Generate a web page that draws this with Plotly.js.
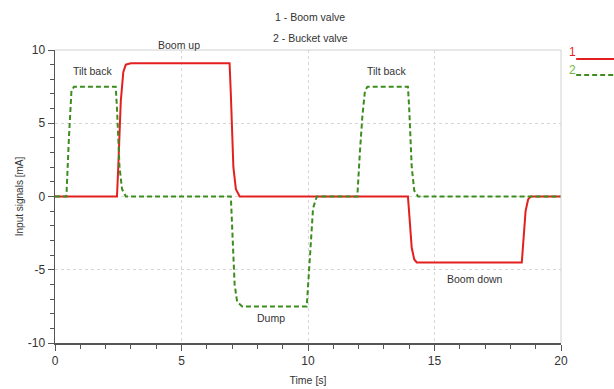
<!DOCTYPE html>
<html>
<head>
<meta charset="utf-8">
<script src="https://cdn.plot.ly/plotly-3.0.1.min.js"></script>
<style>html,body{margin:0;padding:0;background:#fff;}#chart{width:614px;height:389px;}</style>
</head>
<body>
<div id="chart"></div>
<script>
// Boom valve (series 1)
const timeBoom = [0, 2.45, 2.5, 2.6, 2.7, 2.8, 3.0, 6.9, 6.95, 7.05, 7.15, 7.3, 13.95, 14.0, 14.1, 14.2, 14.3, 18.45, 18.5, 18.6, 18.7, 18.8, 20];
const boomValve = [0, 0, 2, 6.5, 8.5, 9.0, 9.1, 9.1, 7, 2, 0.5, 0, 0, -1, -3.5, -4.3, -4.5, -4.5, -3.5, -1, -0.2, 0, 0];
// Bucket valve (series 2)
const timeBucket = [0, 0.45, 0.55, 0.65, 0.75, 2.4, 2.45, 2.55, 2.65, 2.8, 6.95, 7.0, 7.1, 7.2, 7.4, 9.95, 10.0, 10.1, 10.2, 10.35, 11.95, 12.05, 12.15, 12.25, 12.35, 13.95, 14.0, 14.1, 14.2, 14.35, 20];
const bucketValve = [0, 0, 4, 7.2, 7.5, 7.5, 6, 2, 0.5, 0, 0, -2, -6, -7.2, -7.5, -7.5, -6, -3, -0.8, 0, 0, 3, 5.5, 7.2, 7.5, 7.5, 6, 2, 0.4, 0, 0];
// Phase labels
const labelText = ["Boom up", "Tilt back", "Tilt back", "Dump", "Boom down"];
const labelX = [4.9, 1.5, 13.1, 8.55, 16.6];
const labelY = [10, 8.6, 8.6, -8.3, -5.6];
const labelShift = [5, 0, 0, 0, 0];
const xTicks = [0, 5, 10, 15, 20];
const yTicks = [-10, -5, 0, 5, 10];
const titleLines = ["1 - Boom valve", "2 - Bucket valve"];

const RED = '#e41f1f', GREEN = '#3d8c1e';
const FONT = '"Liberation Sans Narrow", "Arial Narrow", "Liberation Sans", sans-serif';

const traces = [
  {x: timeBoom, y: boomValve, mode: 'lines', name: '1', line: {color: RED, width: 2}, cliponaxis: false},
  {x: timeBucket, y: bucketValve, mode: 'lines', name: '2', line: {color: GREEN, width: 2, dash: '5px,3px'}}
];

const annotations = labelText.map((t, i) => ({
  x: labelX[i], y: labelY[i], xref: 'x', yref: 'y', text: t, showarrow: false, yshift: labelShift[i],
  font: {family: FONT, size: 10.5, color: '#333'}
}));
// second title line
annotations.push({xref: 'paper', yref: 'paper', x: 0.505, y: 1.0, yshift: 12, xanchor: 'center', yanchor: 'middle', text: titleLines[1], showarrow: false, font: {family: FONT, size: 10.5, color: '#333'}});
// legend
annotations.push({xref: 'paper', yref: 'paper', x: 1.012, y: 0.993, xanchor: 'left', yanchor: 'middle', text: '1', showarrow: false, font: {family: FONT, size: 12, color: RED}});
annotations.push({xref: 'paper', yref: 'paper', x: 1.012, y: 0.932, xanchor: 'left', yanchor: 'middle', text: '2', showarrow: false, font: {family: FONT, size: 12, color: '#6fb83f'}});

const shapes = [
  {type: 'line', xref: 'paper', yref: 'paper', x0: 0, x1: 1, y0: 1, y1: 1, line: {color: '#d0d0d0', width: 1}},
  {type: 'line', xref: 'paper', yref: 'paper', x0: 1, x1: 1, y0: 0, y1: 1, line: {color: '#d0d0d0', width: 1}},
  {type: 'line', xref: 'paper', yref: 'paper', x0: 1.03, x1: 1.105, y0: 0.969, y1: 0.969, line: {color: RED, width: 2}},
  {type: 'line', xref: 'paper', yref: 'paper', x0: 1.03, x1: 1.105, y0: 0.915, y1: 0.915, line: {color: GREEN, width: 2, dash: '5px,3px'}}
];

const layout = {
  width: 614, height: 389,
  margin: {l: 55, r: 53, t: 50, b: 46},
  paper_bgcolor: '#fff', plot_bgcolor: '#fff',
  showlegend: false,
  font: {family: FONT, size: 11, color: '#333'},
  title: {text: titleLines[0], x: 0.505, xanchor: 'center', y: 1 - 17 / 389, yanchor: 'middle', font: {family: FONT, size: 10.5, color: '#333'}},
  xaxis: {
    range: [0, 20], tickvals: xTicks, ticktext: xTicks.map(String),
    showline: true, linecolor: '#555', linewidth: 1.5,
    ticks: 'outside', ticklen: 6, tickcolor: '#555',
    minor: {dtick: 1, ticks: 'outside', ticklen: 4, tickcolor: '#555', showgrid: false},
    showgrid: true, gridcolor: '#d6d6d6', griddash: 'dot', gridwidth: 1,
    zeroline: false,
    title: {text: 'Time [s]', font: {family: FONT, size: 10.5, color: '#333'}, standoff: 9},
    tickfont: {family: FONT, size: 12, color: '#333'}
  },
  yaxis: {
    range: [-10, 10], tickvals: yTicks, ticktext: yTicks.map(String),
    showline: true, linecolor: '#555', linewidth: 1.5,
    ticks: 'outside', ticklen: 6, tickcolor: '#555',
    minor: {dtick: 1, ticks: 'outside', ticklen: 4, tickcolor: '#555', showgrid: false},
    showgrid: true, gridcolor: '#d6d6d6', griddash: 'dot', gridwidth: 1,
    zeroline: false,
    title: {text: 'Input signals [mA]', font: {family: FONT, size: 10, color: '#333'}, standoff: 2},
    tickfont: {family: FONT, size: 12, color: '#333'}
  },
  annotations: annotations,
  shapes: shapes
};

Plotly.newPlot('chart', traces, layout, {displayModeBar: false, staticPlot: true});
</script>
</body>
</html>
